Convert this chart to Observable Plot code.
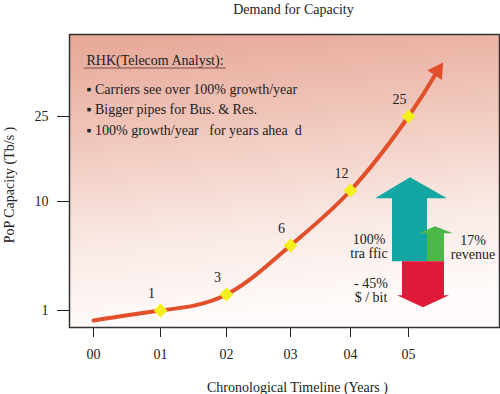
<!DOCTYPE html>
<html><head><meta charset="utf-8">
<script src="https://cdn.jsdelivr.net/npm/d3@7"></script>
<script src="https://cdn.jsdelivr.net/npm/@observablehq/plot@0.6"></script>
<style>body{margin:0;background:#fff;}</style>
</head><body><div id="chart"></div>
<script>
const title = "Demand for Capacity";
const xLabel = "Chronological Timeline (Years )";
const yLabel = "PoP Capacity (Tb/s )";
const xTicks = [0, 1, 2, 3, 4, 5];
const xTickLabels = ["00", "01", "02", "03", "04", "05"];
const yTicks = [1, 10, 25];
const pointYears = [1, 2, 3, 4, 5];
const pointValues = [1, 3, 6, 12, 25];
const curveYears = [0, 1, 2, 3, 4, 5, 5.5];
const curveValues = [0.5, 1, 3, 6, 12, 25, 33];
const noteTitle = "RHK(Telecom Analyst):";
const noteBullets = [
  "Carriers see over 100% growth/year",
  "Bigger pipes for Bus. & Res.",
  "100% growth/year\u00a0\u00a0\u00a0for years ahea\u00a0\u00a0d"
];
const changeLabels = [["100%", "tra ffic"], ["17%", "revenue"], ["- 45%", "$ / bit"]];
const changeValues = [100, 17, -45];
const changeColors = ["#14a6a3", "#4cb848", "#e0193a"];

// piecewise scale knots (the original axis is hand-drawn, not a true log scale)
const xKnots = [0, 1, 2, 3, 4, 5];
const xPixels = [93, 160, 226, 290, 350, 408];
const yKnots = [0.5, 1, 3, 6, 10, 12, 25];
const yPixels = [320, 310, 294, 245, 201, 190, 116];

const points = pointYears.map((x, i) => ({x, y: pointValues[i]}));
const curve = curveYears.map((x, i) => ({x, y: curveValues[i]}));
const lineColor = "#e1502b";

function defsMark() {
  const g = d3.create("svg:g");
  const lg = g.append("defs").append("linearGradient")
    .attr("id", "bgGrad").attr("x1", 0).attr("y1", 0).attr("x2", 0.15).attr("y2", 1);
  [[0, "#e6a696"], [0.35, "#f0c6ba"], [0.7, "#f9e8e3"], [1, "#fefbfa"]].forEach(([o, c]) =>
    lg.append("stop").attr("offset", o).attr("stop-color", c));
  return g.node();
}

function changeArrows(index, scales, values, dims) {
  const g = d3.create("svg:g");
  const ax = scales.x(5), ay = scales.y(5);
  const shapes = [
    [[-16,0],[-16,-63],[-33,-63],[2,-84],[39,-63],[19,-63],[19,0]],
    [[19,0],[19,-28],[11,-28],[27,-35],[45,-28],[36,-28],[36,0]],
    [[-6,0],[-6,34],[-11,34],[15,46],[41,34],[36,34],[36,0]]
  ];
  const labelPos = [[-39,-22],[65,-21],[-37,22]];
  changeValues.forEach((v, i) => {
    g.append("polygon")
      .attr("points", shapes[i].map(([dx, dy]) => `${ax + dx},${ay + dy}`).join(" "))
      .attr("fill", changeColors[i]);
  });
  changeLabels.forEach((lines, i) => {
    const t = g.append("text").attr("text-anchor", "middle").attr("font-size", 14).attr("fill", "#222");
    lines.forEach((s, j) => t.append("tspan")
      .attr("x", ax + labelPos[i][0]).attr("y", ay + labelPos[i][1] + j * 14).attr("dy", "0.35em").text(s));
  });
  // underline for note title
  g.append("line").attr("x1", dims.marginLeft + 15).attr("x2", dims.marginLeft + 157)
    .attr("y1", dims.marginTop + 34).attr("y2", dims.marginTop + 34)
    .attr("stroke", "#7a4a40").attr("stroke-width", 1);
  return g.node();
}

const last = curve[curve.length - 1];

const chart = Plot.plot({
  width: 500,
  height: 394,
  marginLeft: 69,
  marginRight: 1,
  marginTop: 34,
  marginBottom: 67,
  style: {fontFamily: "'Liberation Serif', 'Times New Roman', serif", fontSize: "14px", color: "#222", background: "#fff"},
  x: {type: "linear", domain: xKnots, range: xPixels},
  y: {type: "linear", domain: yKnots, range: yPixels},
  marks: [
    defsMark,
    Plot.frame({fill: "url(#bgGrad)", stroke: "none"}),
    Plot.axisX({ticks: xTicks, tickFormat: d => xTickLabels[xTicks.indexOf(d)], tickSize: 10, tickPadding: 12, label: null}),
    Plot.axisY({ticks: yTicks, tickSize: 12, tickPadding: 9, label: null}),
    Plot.text([title], {frameAnchor: "top", dx: 9, dy: -25, lineAnchor: "middle", fontSize: 14}),
    Plot.text([xLabel], {frameAnchor: "bottom", dx: 13, dy: 60, lineAnchor: "middle", fontSize: 14}),
    Plot.text([yLabel], {frameAnchor: "left", dx: -60, dy: 4, rotate: -90, textAnchor: "middle", lineAnchor: "middle", fontSize: 14}),
    Plot.text([noteTitle], {frameAnchor: "top-left", dx: 17, dy: 26, lineAnchor: "middle", textAnchor: "start", fontSize: 14}),
    Plot.text([noteBullets.map(b => "\u25aa " + b).join("\n")], {frameAnchor: "top-left", dx: 17, dy: 73, lineAnchor: "middle", textAnchor: "start", lineHeight: 1.47, fontSize: 14}),
    changeArrows,
    Plot.line(curve, {x: "x", y: "y", stroke: lineColor, strokeWidth: 4, curve: "natural"}),
    Plot.dot([last], {x: "x", y: "y", symbol: "triangle", r: 6.5, fill: lineColor, rotate: 34}),
    Plot.dot(points, {x: "x", y: "y", symbol: "square", r: 5.5, rotate: 45, fill: "#f4ee1a"}),
    Plot.text(points, {x: "x", y: "y", text: d => String(d.y), dx: -9, dy: -17, fontSize: 14}),
    Plot.frame({stroke: "#333", strokeWidth: 1.5})
  ]
});
document.getElementById("chart").appendChild(chart);
</script>
</body></html>
